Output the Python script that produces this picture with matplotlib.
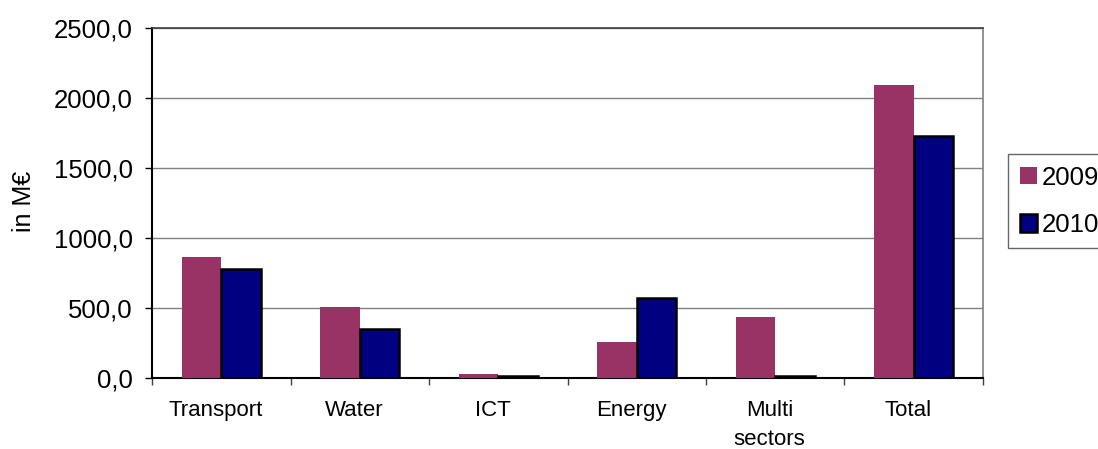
import matplotlib
matplotlib.use("Agg")
import matplotlib.pyplot as plt
from matplotlib.ticker import FixedLocator, FuncFormatter
import numpy as np

# Budget by sector, in million euro
sectors = ["Transport", "Water", "ICT", "Energy", "Multi\nsectors", "Total"]
values_2009 = [864, 505, 30, 259, 436, 2090]
values_2010 = [778, 350, 15, 572, 15, 1725]
series_labels = ["2009", "2010"]

color_2009 = "#993366"
color_2010 = "#000080"

W, H, DPI = 1098, 449, 100
fig = plt.figure(figsize=(W / DPI, H / DPI), dpi=DPI)
ax = fig.add_axes([152 / W, 1 - 378 / H, (983 - 152) / W, (378 - 28) / H])

x = np.arange(len(sectors))
bw = 0.285
ax.bar(x - bw / 2, values_2009, width=bw, color=color_2009, edgecolor="none",
       label=series_labels[0], zorder=3)
ax.bar(x + bw / 2, values_2010, width=bw, color=color_2010, edgecolor="black",
       linewidth=1.8, label=series_labels[1], zorder=3)

ax.set_xlim(-0.5, len(sectors) - 0.5)
ax.set_ylim(0, 2500)

# Y axis
ax.set_yticks(np.arange(0, 2501, 500))
ax.yaxis.set_major_formatter(FuncFormatter(lambda v, p: f"{v:.1f}".replace(".", ",")))
ax.tick_params(axis="y", direction="out", length=5, width=1, pad=9,
               labelsize=18.5, labelcolor="black")
for lab in ax.get_yticklabels():
    lab.set_family(["Liberation Sans", "DejaVu Sans"])
ax.grid(axis="y", color="#808080", linewidth=1.0, zorder=0)

# X axis: separator ticks between categories, labels at centres
ax.xaxis.set_major_locator(FixedLocator(x - 0.04))
ax.xaxis.set_minor_locator(FixedLocator(np.arange(-0.5, len(sectors), 1.0)))
ax.tick_params(axis="x", which="major", length=0, pad=16)
ax.tick_params(axis="x", which="minor", direction="out", length=5, width=1,
               color="#404040")
ax.set_xticklabels(sectors, fontsize=16, family=["Liberation Sans", "DejaVu Sans"],
                   linespacing=1.5, va="top")

for side in ["left", "bottom"]:
    ax.spines[side].set_color("black")
    ax.spines[side].set_linewidth(1.5)
ax.spines["top"].set_color("#404040")
ax.spines["top"].set_linewidth(1.2)
ax.spines["right"].set_color("#808080")
ax.spines["right"].set_linewidth(1.2)

fig.text(24 / W, 1 - 201 / H, "in M€", rotation=90, ha="center", va="center",
         fontsize=18, family=["Liberation Sans", "DejaVu Sans"])

leg = fig.legend(loc="upper left", bbox_to_anchor=(1008 / W, 1 - 154 / H),
                 prop={"family": ["Liberation Sans", "DejaVu Sans"], "size": 18.5},
                 handlelength=0.68, handleheight=0.68, handletextpad=0.2,
                 labelspacing=0.9, borderpad=0.45, borderaxespad=0,
                 fancybox=False, frameon=True)
leg.get_frame().set_edgecolor("#404040")
leg.get_frame().set_linewidth(1.0)

fig.savefig("out.png", dpi=DPI)
